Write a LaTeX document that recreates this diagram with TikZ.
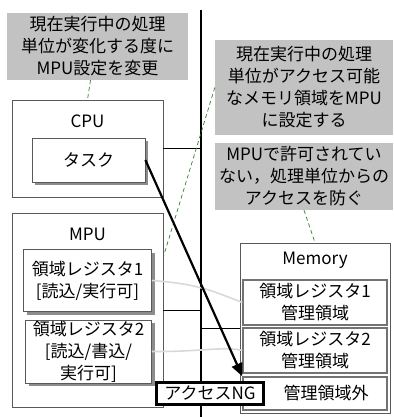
\documentclass[tikz,border=0pt]{standalone}
\usepackage{fontspec}
\setmainfont{Noto Sans CJK JP}
\usetikzlibrary{arrows.meta,shadows}
\begin{document}
\begin{tikzpicture}[x=1pt,y=-1pt,
  every node/.style={inner sep=0pt,font=\fontsize{17}{22}\selectfont},
  note/.style={fill=black!24,draw=none,align=center},
  frame/.style={draw=black!65,line width=0.8pt,fill=white},
  sbox/.style={draw=black!65,line width=0.8pt,fill=white,align=center,
    drop shadow={shadow xshift=3pt,shadow yshift=-3pt,fill=black!45,opacity=1}},
  mbox/.style={draw=black!55,line width=1.4pt,fill=white,align=center},
  conn/.style={draw=black,line width=0.8pt},
  bus/.style={draw=black,line width=1.2pt},
  link/.style={draw=black!15,line width=1.6pt},
  callout/.style={draw=black!50!green!60!gray,dashed,dash pattern=on 4pt off 3pt,line width=0.7pt},
  ngbox/.style={draw=black,line width=3pt,fill=white},
  access/.style={draw=black,line width=2.2pt,-{Triangle[length=13pt,width=11pt]}}
]
\useasboundingbox (0,0) rectangle (393,417);
\fill[white] (0,0) rectangle (393,417);

% bus
\coordinate (bustop) at (201,10);
\coordinate (busbot) at (201,417);
\draw[bus] (bustop) -- (busbot);

% notes
\node[note,minimum width=181pt,minimum height=67pt] (note1) at (97.5,46.5)
  {現在実行中の処理\\単位が変化する度に\\MPU設定を変更};
\node[note,minimum width=178pt,minimum height=95pt] (note2) at (304,87.5)
  {現在実行中の処理\\単位がアクセス可能\\なメモリ領域をMPU\\に設定する};
\node[note,minimum width=178pt,minimum height=67pt] (note3) at (304,176.5)
  {MPUで許可されてい\\ない，処理単位からの\\アクセスを防ぐ};

% CPU
\node[frame,minimum width=151pt,minimum height=97pt] (cpu) at (87.5,148.5) {};
\node (cpulbl) at (87.5,121) {CPU};
\node[sbox,minimum width=113pt,minimum height=44pt] (task) at (88.5,160) {タスク};

% MPU
\node[frame,minimum width=151pt,minimum height=194pt] (mpu) at (87.5,310) {};
\node (mpulbl) at (87.5,234) {MPU};
\node[sbox,minimum width=128pt,minimum height=62pt] (reg1) at (87.5,280.5)
  {領域レジスタ1\\{[}読込/実行可{]}};
\node[sbox,minimum width=126pt,minimum height=63pt] (reg2) at (88.5,351.5)
  {領域レジスタ2\\{[}読込/書込/\\実行可{]}};

% Memory
\node[frame,minimum width=150pt,minimum height=170pt] (mem) at (315,328) {};
\node (memlbl) at (315,260) {Memory};
\node[mbox,minimum width=144pt,minimum height=45pt] (mr1) at (315,302.5)
  {領域レジスタ1\\管理領域};
\node[mbox,minimum width=144pt,minimum height=45pt] (mr2) at (315,350.5)
  {領域レジスタ2\\管理領域};
\node[mbox,minimum width=144pt,minimum height=33pt] (mr3) at (315,393.5)
  {\hspace*{22pt}管理領域外};

% bus connections
\draw[conn] (cpu.east) -- (cpu.east -| bustop);
\draw[conn] (mpu.east) -- (mpu.east -| bustop);
\draw[conn] (mem.west -| bustop) -- (mem.west);

% register links
\draw[link] (reg1.east) .. controls (200,284) and (215,292) .. (mr1.west);
\draw[link] (reg2.east) .. controls (200,352) and (225,346) .. (mr2.west);

% callouts
\draw[callout] ([xshift=-7pt]note1.south) -- (cpu.north);
\draw[callout] (note2.west) -- ([yshift=-44pt]mpu.north east);
\draw[callout] (note3.south) -- (mem.north);

% access arrow
\draw[access] (task.east) -- (mr3.north west);

% access NG
\node[ngbox,minimum width=107pt,minimum height=22pt] (ng) at (210,393.5) {アクセスNG};
\end{tikzpicture}
\end{document}
